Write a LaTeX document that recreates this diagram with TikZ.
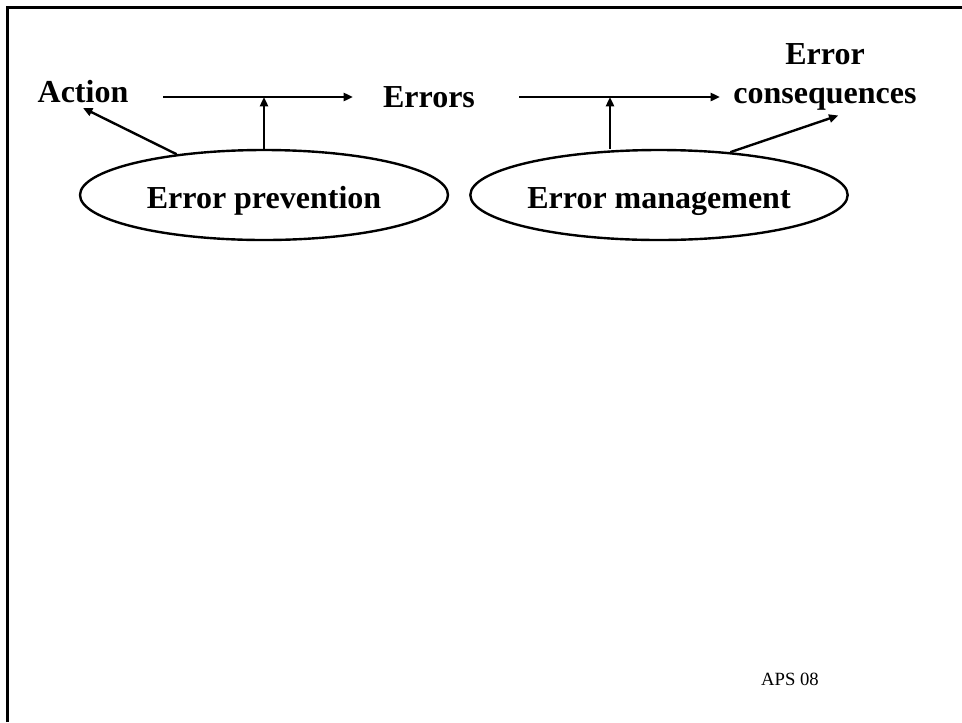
\documentclass[tikz,border=0pt]{standalone}
\usepackage{fontspec}
\setmainfont{Liberation Serif}
\usetikzlibrary{shapes.geometric,arrows.meta}
\begin{document}
\begin{tikzpicture}[x=0.75pt, y=-0.75pt, line width=1.8pt, >={Triangle[length=7pt,width=6pt]},
  lbl/.style={font=\fontsize{24}{28.8}\selectfont\bfseries, anchor=base},
  oval/.style={ellipse, draw, inner sep=0pt, minimum height=67.5pt,
    font=\fontsize{24}{28.8}\selectfont\bfseries, text height=21pt, text depth=1.5pt}]
  \useasboundingbox (0,0) rectangle (962,722);
  \draw[line width=2.25pt] (7,722) -- (7,7) -- (962,7);

  \coordinate (A1) at (163,97);
  \coordinate (B1) at (353,97);
  \coordinate (A2) at (519,97);
  \coordinate (B2) at (720,97);
  \coordinate (M1) at (264,97);
  \coordinate (M2) at (610,97);

  \node[lbl] (act) at (83,102) {Action};
  \node[lbl] (err) at (429,107) {Errors};
  \node[lbl, align=center] (cons) at (825,103) {Error\\consequences};
  \node[oval, minimum width=276pt] (prev) at (264,195) {Error prevention};
  \node[oval, minimum width=283pt] (mgmt) at (659,195) {Error management};
  \node[anchor=base, font=\fontsize{14}{17}\selectfont] (aps) at (790,685) {APS 08};

  \draw[->] (A1) -- (B1);
  \draw[->] (A2) -- (B2);
  \draw[->] (prev.north) -- (M1);
  \draw[->] (mgmt.north -| M2) -- (M2);
  \draw[->] (prev.155) -- (act.south);
  \draw[->] (mgmt.31) -- ([xshift=10pt]cons.south);
\end{tikzpicture}
\end{document}
